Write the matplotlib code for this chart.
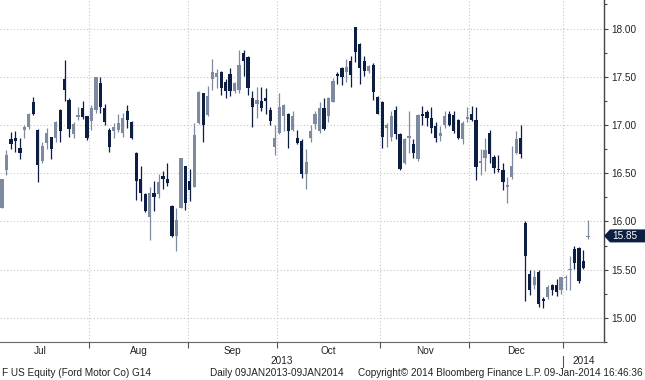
import numpy as np
import matplotlib
matplotlib.use("Agg")
import matplotlib.pyplot as plt
from matplotlib.patches import Polygon
from matplotlib.transforms import blended_transform_factory

# daily OHLC, 03 Jul 2013 - 09 Jan 2014
opens = [16.14, 16.53, 16.85, 16.86, 16.76, 16.95, 16.98, 17.24, 16.95, 16.63,
         16.81, 16.88, 16.87, 17.16, 17.48, 17.26, 16.91, 17.08, 17.18, 17.09,
         17.04, 17.16, 17.44, 17.18, 16.95, 16.94, 16.95, 16.92, 17.15, 17.03,
         16.71, 16.44, 16.28, 16.05, 16.30, 16.28, 16.47, 16.44, 16.16, 15.85,
         16.14, 16.58, 16.42, 16.36, 17.02, 17.33, 17.10, 17.48, 17.50, 17.55,
         17.45, 17.53, 17.35, 17.36, 17.75, 17.71, 17.28, 17.22, 17.25, 17.28,
         17.16, 16.77, 16.92, 17.09, 17.11, 16.95, 16.86, 16.83, 16.49, 16.87,
         17.01, 16.94, 17.18, 17.09, 17.24, 17.53, 17.59, 17.55, 17.66, 18.02,
         17.84, 17.66, 17.56, 17.62, 17.29, 17.24, 16.97, 16.88, 17.16, 16.91,
         16.61, 16.87, 16.80, 16.65, 17.11, 17.13, 17.07, 16.99, 16.89, 17.00,
         17.11, 17.10, 17.05, 16.85, 17.06, 17.11, 17.05, 16.61, 16.66, 16.92,
         16.67, 16.54, 16.53, 16.36, 16.46, 16.71, 16.86, 15.98, 15.45, 15.34,
         15.48, 15.20, 15.22, 15.34, 15.34, 15.29, 15.41, 15.50, 15.71, 15.72,
         15.59, 15.84]
highs = [16.44, 16.74, 16.93, 16.94, 16.87, 17.00, 17.12, 17.29, 16.96, 16.82,
         16.97, 16.88, 17.04, 17.17, 17.67, 17.28, 17.03, 17.19, 17.25, 17.09,
         17.21, 17.50, 17.50, 17.22, 16.97, 17.02, 17.11, 17.12, 17.21, 17.04,
         16.72, 16.58, 16.29, 16.36, 16.42, 16.49, 16.52, 16.61, 16.17, 16.14,
         16.66, 16.58, 16.54, 17.02, 17.35, 17.33, 17.40, 17.68, 17.58, 17.56,
         17.48, 17.59, 17.45, 17.78, 17.78, 17.72, 17.35, 17.39, 17.39, 17.38,
         17.19, 17.00, 17.33, 17.22, 17.12, 17.15, 16.95, 16.85, 16.75, 17.00,
         17.14, 17.24, 17.28, 17.29, 17.49, 17.55, 17.60, 17.68, 17.72, 18.02,
         17.85, 17.72, 17.62, 17.64, 17.30, 17.25, 17.02, 17.14, 17.20, 16.92,
         16.87, 17.14, 16.85, 17.11, 17.20, 17.16, 17.19, 17.03, 16.99, 17.15,
         17.14, 17.14, 17.06, 17.04, 17.19, 17.20, 17.19, 16.75, 16.86, 16.95,
         16.69, 16.69, 16.61, 16.46, 16.78, 16.94, 17.00, 16.00, 15.50, 15.50,
         15.50, 15.22, 15.34, 15.35, 15.40, 15.42, 15.44, 15.64, 15.75, 15.73,
         15.70, 16.01]
lows = [16.14, 16.48, 16.75, 16.72, 16.65, 16.86, 16.96, 17.10, 16.41, 16.61,
        16.75, 16.65, 16.82, 16.82, 17.25, 16.88, 16.87, 17.05, 17.06, 16.84,
        16.95, 17.12, 17.12, 17.00, 16.72, 16.87, 16.93, 16.88, 16.97, 16.85,
        16.22, 16.21, 16.10, 15.81, 16.11, 16.24, 16.34, 16.37, 15.84, 15.69,
        16.14, 16.12, 16.21, 16.36, 17.01, 16.82, 17.09, 17.36, 17.38, 17.31,
        17.28, 17.30, 17.33, 17.33, 17.51, 17.31, 16.98, 17.07, 17.14, 17.11,
        17.00, 16.69, 16.91, 16.94, 16.76, 16.94, 16.80, 16.45, 16.34, 16.82,
        16.96, 16.92, 16.95, 17.03, 17.24, 17.43, 17.41, 17.45, 17.39, 17.65,
        17.43, 17.51, 17.54, 17.26, 17.11, 16.76, 16.77, 16.83, 16.85, 16.53,
        16.60, 16.71, 16.66, 16.63, 17.00, 16.99, 16.92, 16.82, 16.83, 16.97,
        16.99, 16.92, 16.85, 16.80, 17.03, 17.04, 16.43, 16.48, 16.52, 16.61,
        16.50, 16.51, 16.33, 16.19, 16.44, 16.70, 16.66, 15.17, 15.24, 15.30,
        15.11, 15.10, 15.20, 15.24, 15.23, 15.25, 15.29, 15.29, 15.51, 15.36,
        15.51, 15.82]
closes = [16.44, 16.69, 16.80, 16.83, 16.71, 16.98, 17.11, 17.11, 16.59, 16.78,
          16.92, 16.75, 17.03, 16.94, 17.36, 16.96, 17.01, 17.10, 17.08, 16.87,
          17.18, 17.50, 17.19, 17.03, 16.77, 16.98, 17.02, 17.07, 17.05, 16.87,
          16.42, 16.30, 16.11, 16.30, 16.25, 16.41, 16.44, 16.40, 15.85, 16.01,
          16.66, 16.19, 16.33, 16.90, 17.34, 17.00, 17.30, 17.55, 17.54, 17.38,
          17.35, 17.35, 17.44, 17.62, 17.66, 17.38, 17.19, 17.26, 17.18, 17.25,
          17.04, 16.87, 17.19, 17.21, 16.94, 17.09, 16.81, 16.49, 16.62, 16.94,
          17.11, 17.18, 16.96, 17.28, 17.46, 17.51, 17.50, 17.60, 17.52, 17.76,
          17.59, 17.56, 17.61, 17.34, 17.11, 16.88, 17.00, 17.09, 16.91, 16.54,
          16.85, 16.88, 16.71, 17.10, 17.09, 17.07, 16.97, 16.87, 16.92, 17.09,
          17.00, 16.94, 16.86, 17.02, 17.08, 17.05, 16.56, 16.62, 16.74, 16.70,
          16.55, 16.53, 16.41, 16.38, 16.58, 16.85, 16.70, 15.64, 15.29, 15.42,
          15.14, 15.18, 15.32, 15.29, 15.27, 15.42, 15.42, 15.51, 15.57, 15.38,
          15.52, 15.85]

# trading days per month: Jul .. Dec 2013, Jan 2014 (first two Jul days off-chart)
month_names = ["Jul", "Aug", "Sep", "Oct", "Nov", "Dec", "Jan"]
month_days = [22, 22, 20, 23, 20, 21, 6]
hidden_days = 2

up_color = "#7d8aa0"
down_color = "#0c1e42"
grid_color = "#c4c4c4"
font = "Liberation Sans"
fsize = 7.2

o = np.array(opens)
h = np.array(highs)
l = np.array(lows)
c = np.array(closes)
x = np.arange(len(o))
colors = np.where(c >= o, up_color, down_color)

fig = plt.figure(figsize=(6.45, 3.8), dpi=100)
ax = fig.add_axes([0, 38 / 380, 604 / 645, 342 / 380])

ax.vlines(x, l, h, colors=colors, linewidth=0.9, zorder=2)
body_lo = np.minimum(o, c)
body_h = np.maximum(np.abs(c - o), 0.012)
ax.bar(x, body_h, bottom=body_lo, width=0.72, color=colors, linewidth=0, zorder=3)

ax.set_xlim(-0.45, 134.6)
ax.set_ylim(14.806, 18.296)

# month boundaries
starts = np.cumsum([0] + month_days) - hidden_days
bounds = starts[1:-1] - 0.5
ax.set_xticks(bounds)
ax.set_xticklabels([])
ax.tick_params(axis="x", direction="out", length=4, width=0.8, color="#555555")

ax.yaxis.tick_right()
major = np.arange(15.0, 18.01, 0.5)
ax.set_yticks(major)
ax.set_yticks(np.arange(14.75, 18.3, 0.25), minor=True)
ax.set_yticklabels([f"{v:.2f}" for v in major], family=font)
ax.tick_params(axis="y", which="major", direction="out", length=3, width=0.8,
               color="#444444", labelsize=fsize, labelcolor="#222222", pad=2)
ax.tick_params(axis="y", which="minor", direction="out", length=2, width=0.8,
               color="#444444")

ax.grid(True, which="major", color=grid_color, linestyle=(0, (1, 2)), linewidth=0.8)
ax.set_axisbelow(True)
for s in ["left", "top"]:
    ax.spines[s].set_visible(False)
ax.spines["right"].set_color("#444444")
ax.spines["bottom"].set_color("#666666")
ax.spines["right"].set_linewidth(1.0)
ax.spines["bottom"].set_linewidth(0.8)

trans = blended_transform_factory(ax.transData, ax.transAxes)
text_kw = dict(fontsize=fsize, color="#222222", family=font)
for k in range(6):
    mid = (starts[k] + starts[k + 1]) / 2 - 0.5
    ax.text(mid, -0.025, month_names[k], transform=trans, ha="center", va="center",
            **text_kw)

year_bound = bounds[-1]
ax.text((ax.get_xlim()[0] + year_bound) / 2, -0.057, "2013", transform=trans,
        ha="center", va="center", **text_kw)
ax.text((year_bound + ax.get_xlim()[1]) / 2, -0.057, "2014", transform=trans,
        ha="center", va="center", **text_kw)
ax.plot([year_bound, year_bound], [-0.040, -0.073], transform=trans, color="#555555",
        linewidth=0.8, clip_on=False)

# last price tag
fig.canvas.draw()
px, py = ax.transData.transform((ax.get_xlim()[1], closes[-1]))
tag = Polygon([[px, py], [px + 6, py + 6.5], [645, py + 6.5], [645, py - 6.5],
               [px + 6, py - 6.5]], closed=True, transform=None,
              facecolor=down_color, edgecolor="none", clip_on=False)
fig.patches.append(tag)
fig.text((px + 8) / 645, py / 380, f"{closes[-1]:.2f}", color="white",
         ha="left", va="center", fontsize=fsize, family=font)

foot_y = 7 / 380
fig.text(2 / 645, foot_y, "F US Equity (Ford Motor Co) G14", ha="left", va="center", **text_kw)
fig.text(344 / 645, foot_y, "Daily 09JAN2013-09JAN2014", ha="right", va="center", **text_kw)
fig.text(358 / 645, foot_y, "Copyright\u00a9 2014 Bloomberg Finance L.P.", ha="left",
         va="center", **text_kw)
fig.text(643 / 645, foot_y, "09-Jan-2014 16:46:36", ha="right", va="center", **text_kw)

fig.savefig("out.png", dpi=100)
